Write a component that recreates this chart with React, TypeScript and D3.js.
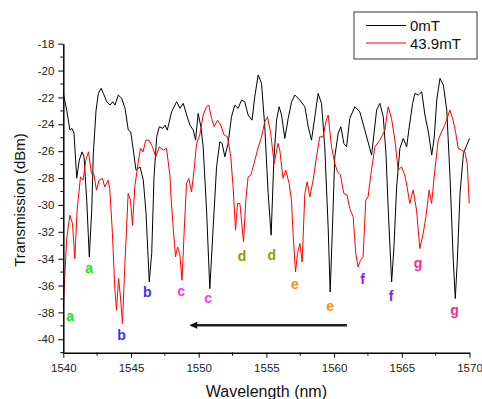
import { useRef, useEffect } from 'react';
import * as d3 from 'd3';

// 0mT trace (black)
const wl0 = [
  1540.0, 1540.25, 1540.49, 1540.64, 1540.79, 1540.99, 1541.18, 1541.38, 1541.53, 1541.73,
  1541.92, 1542.1, 1542.22, 1542.42, 1542.59, 1542.79, 1542.96, 1543.21, 1543.45, 1543.65,
  1543.82, 1544.06, 1544.31, 1544.56, 1544.8, 1544.98, 1545.17, 1545.37, 1545.67, 1545.91,
  1546.11, 1546.35, 1546.53, 1546.7, 1546.9, 1547.09, 1547.34, 1547.51, 1547.68, 1548.0,
  1548.37, 1548.62, 1548.86, 1549.11, 1549.35, 1549.6, 1549.77, 1549.96, 1550.16, 1550.33,
  1550.58, 1550.82, 1551.07, 1551.32, 1551.56, 1551.73, 1551.93, 1552.17, 1552.42, 1552.67,
  1552.91, 1553.16, 1553.4, 1553.65, 1553.94, 1554.14, 1554.39, 1554.64, 1554.88, 1555.13,
  1555.35, 1555.55, 1555.75, 1555.94, 1556.12, 1556.36, 1556.61, 1556.86, 1557.1, 1557.47,
  1557.84, 1558.09, 1558.33, 1558.58, 1558.82, 1559.07, 1559.31, 1559.56, 1559.71, 1559.88,
  1560.05, 1560.3, 1560.5, 1560.72, 1560.92, 1561.16, 1561.53, 1561.9, 1562.27, 1562.77,
  1563.14, 1563.38, 1563.63, 1563.83, 1564.0, 1564.25, 1564.42, 1564.62, 1564.86, 1565.11,
  1565.36, 1565.55, 1565.8, 1565.97, 1566.22, 1566.47, 1566.71, 1566.96, 1567.21, 1567.4,
  1567.58, 1567.82, 1568.07, 1568.32, 1568.56, 1568.8, 1568.95, 1569.1, 1569.3, 1569.55,
  1569.8, 1570.0,
];
const t0 = [
  -21.7, -22.94, -24.43, -24.3, -24.65, -28.01, -26.67, -26.05, -26.42, -29.65,
  -33.87, -30.39, -26.14, -22.94, -21.7, -21.32, -21.7, -22.32, -22.57, -22.32,
  -22.57, -21.82, -22.07, -22.81, -24.43, -24.56, -25.92, -27.41, -27.17, -28.16,
  -30.62, -35.73, -33.6, -27.91, -24.93, -24.18, -24.3, -24.06, -24.43, -23.07,
  -22.32, -22.81, -22.44, -23.31, -24.06, -24.43, -25.18, -23.19, -24.18, -25.68,
  -30.39, -36.23, -31.64, -27.17, -25.3, -25.42, -26.42, -25.42, -23.44, -22.57,
  -22.81, -22.2, -22.32, -23.31, -23.69, -21.95, -20.33, -20.95, -24.18, -29.15,
  -32.25, -26.67, -23.69, -22.69, -23.31, -25.05, -23.56, -22.32, -21.82, -22.2,
  -22.69, -24.18, -25.18, -23.44, -21.7, -22.44, -25.68, -31.64, -36.48, -31.64,
  -26.42, -24.68, -24.18, -25.42, -25.68, -23.56, -22.69, -23.07, -24.43, -26.29,
  -22.94, -22.44, -23.44, -26.17, -30.39, -35.73, -33.13, -28.66, -25.79, -25.05,
  -25.68, -24.18, -22.44, -21.7, -21.82, -21.58, -23.31, -24.56, -26.29, -24.93,
  -22.2, -20.58, -21.08, -22.94, -27.91, -34.12, -36.97, -34.12, -29.15, -26.17,
  -25.55, -25.05,
];

// 43.9mT trace (red)
const wl1 = [
  1540.0, 1540.11, 1540.24, 1540.48, 1540.68, 1540.85, 1541.02, 1541.27, 1541.46, 1541.66,
  1541.86, 1542.08, 1542.25, 1542.45, 1542.64, 1542.89, 1543.06, 1543.31, 1543.43, 1543.63,
  1543.8, 1543.93, 1544.08, 1544.22, 1544.37, 1544.54, 1544.79, 1544.96, 1545.11, 1545.28,
  1545.52, 1545.7, 1545.89, 1546.09, 1546.34, 1546.59, 1546.83, 1547.08, 1547.37, 1547.62,
  1547.87, 1547.94, 1548.11, 1548.29, 1548.44, 1548.6, 1548.77, 1548.92, 1549.1, 1549.27,
  1549.47, 1549.66, 1549.84, 1550.08, 1550.33, 1550.58, 1550.75, 1550.95, 1551.14, 1551.39,
  1551.63, 1551.88, 1552.13, 1552.37, 1552.54, 1552.72, 1552.87, 1553.04, 1553.16, 1553.31,
  1553.48, 1553.65, 1553.85, 1554.09, 1554.34, 1554.64, 1554.88, 1555.08, 1555.32, 1555.57,
  1555.86, 1555.99, 1556.23, 1556.43, 1556.68, 1556.85, 1556.97, 1557.15, 1557.3, 1557.47,
  1557.64, 1557.84, 1558.01, 1558.21, 1558.45, 1558.7, 1558.94, 1559.19, 1559.39, 1559.56,
  1559.81, 1560.05, 1560.25, 1560.47, 1560.72, 1560.96, 1561.16, 1561.41, 1561.6, 1561.77,
  1561.95, 1562.14, 1562.34, 1562.51, 1562.76, 1563.01, 1563.38, 1563.75, 1563.99, 1564.24,
  1564.49, 1564.73, 1564.98, 1565.22, 1565.39, 1565.59, 1565.84, 1566.09, 1566.33, 1566.58,
  1566.78, 1567.02, 1567.2, 1567.44, 1567.69, 1567.93, 1568.18, 1568.55, 1568.79, 1568.99,
  1569.16, 1569.41, 1569.66, 1569.83, 1569.98,
];
const t1 = [
  -37.6, -35.36, -32.63, -30.76, -31.38, -33.99, -30.39, -27.91, -28.16, -26.67,
  -26.05, -27.66, -27.66, -28.9, -28.16, -28.03, -28.66, -28.16, -28.78, -32.13,
  -36.11, -37.84, -35.48, -36.85, -38.83, -34.62, -29.15, -29.65, -31.51, -28.66,
  -26.91, -25.79, -26.05, -25.18, -25.18, -25.68, -26.42, -25.68, -25.92, -25.79,
  -27.78, -29.15, -31.64, -33.87, -33.13, -33.62, -35.61, -32.13, -28.4, -28.03,
  -29.03, -27.41, -25.42, -24.8, -23.31, -22.69, -22.57, -23.56, -24.18, -23.69,
  -24.06, -24.8, -24.93, -26.42, -28.66, -31.88, -29.89, -29.89, -31.14, -32.75,
  -29.65, -27.91, -27.78, -26.91, -25.92, -24.93, -23.81, -23.44, -24.68, -26.91,
  -25.42, -25.92, -28.03, -27.41, -28.4, -29.65, -32.13, -34.99, -33.62, -32.87,
  -34.24, -29.15, -28.28, -29.4, -28.16, -26.42, -24.93, -24.93, -23.81, -23.31,
  -25.68, -26.91, -27.54, -27.78, -29.15, -29.27, -30.27, -30.89, -33.62, -34.62,
  -34.12, -33.87, -29.65, -29.4, -27.41, -25.68, -25.18, -24.43, -22.69, -23.56,
  -25.18, -27.41, -27.17, -27.78, -28.66, -29.89, -28.9, -30.39, -33.25, -32.13,
  -30.89, -28.9, -29.89, -27.41, -25.18, -24.56, -24.06, -22.94, -23.69, -24.68,
  -25.79, -25.92, -26.05, -26.91, -29.89,
];

const seriesNames = ['0mT', '43.9mT'];
const seriesColors = ['#000000', '#ff0000'];

const xTicks = [1540, 1545, 1550, 1555, 1560, 1565, 1570];
const yTicks = [-40, -38, -36, -34, -32, -30, -28, -26, -24, -22, -20, -18];

// dip labels
const dipText = ['a', 'a', 'b', 'b', 'c', 'c', 'd', 'd', 'e', 'e', 'f', 'f', 'g', 'g'];
const dipWl = [1540.5, 1541.9, 1544.3, 1546.2, 1548.7, 1550.7, 1553.2, 1555.4, 1557.1, 1559.7, 1562.1, 1564.2, 1566.2, 1568.9];
const dipDbm = [-38.3, -34.7, -39.7, -36.5, -36.4, -36.9, -33.8, -33.7, -35.9, -37.5, -35.5, -36.8, -34.3, -37.8];
const dipColors: Record<string, string> = {
  a: '#22e022', b: '#3333ff', c: '#ff33ff', d: '#999900', e: '#ff8c1a', f: '#8c1aff', g: '#ff2a8a',
};

// shift arrow (from, to) in nm at dBm level
const arrowWl = [1560.95, 1549.3];
const arrowDbm = -38.95;

export default function App() {
  const svgRef = useRef<SVGSVGElement>(null);

  useEffect(() => {
    if (!svgRef.current) return;
    const svg = d3.select(svgRef.current);
    svg.selectAll('*').remove();

    const font = 'Arial, "Liberation Sans", sans-serif';
    const x = d3.scaleLinear().domain([1540, 1570]).range([63.3, 469.5]);
    const y = d3.scaleLinear().domain([-41, -18]).range([352.7, 43.7]);

    const line = d3.line<[number, number]>()
      .x((d) => x(d[0]))
      .y((d) => y(d[1]));

    // traces
    const traces: [number, number][][] = [
      wl0.map((w, i) => [w, t0[i]]),
      wl1.map((w, i) => [w, t1[i]]),
    ];
    traces.forEach((tr, i) => {
      svg.append('path')
        .datum(tr)
        .attr('fill', 'none')
        .attr('stroke', seriesColors[i])
        .attr('stroke-width', 1)
        .attr('stroke-linejoin', 'round')
        .attr('d', line);
    });

    // axes
    const xAxis = svg.append('g')
      .attr('transform', `translate(0,${y(-41)})`)
      .call(d3.axisBottom(x).tickValues(xTicks).tickSize(5).tickSizeOuter(0).tickPadding(6).tickFormat((d) => String(d)));
    const yAxis = svg.append('g')
      .attr('transform', `translate(${x(1540)},0)`)
      .call(d3.axisLeft(y).tickValues(yTicks).tickSize(5).tickSizeOuter(0).tickPadding(4).tickFormat((d) => String(d)));

    [xAxis, yAxis].forEach((a) => {
      a.select('.domain').attr('stroke', '#000').attr('stroke-width', 1.5);
      a.selectAll('.tick line').attr('stroke', '#000').attr('stroke-width', 1);
      a.selectAll('.tick text').attr('fill', '#222').attr('font-size', 11.5).attr('font-family', font);
    });

    // minor ticks
    const xMinor = d3.range(1542.5, 1570, 5);
    svg.append('g').selectAll('line').data(xMinor).join('line')
      .attr('x1', (d) => x(d)).attr('x2', (d) => x(d))
      .attr('y1', y(-41)).attr('y2', y(-41) + 3)
      .attr('stroke', '#000');
    const yMinor = d3.range(-41, -18, 2);
    svg.append('g').selectAll('line').data(yMinor).join('line')
      .attr('x1', x(1540) - 3).attr('x2', x(1540))
      .attr('y1', (d) => y(d)).attr('y2', (d) => y(d))
      .attr('stroke', '#000');

    // axis titles
    svg.append('text')
      .attr('x', (x(1540) + x(1570)) / 2 + 0)
      .attr('y', 397)
      .attr('text-anchor', 'middle')
      .attr('font-family', font)
      .attr('font-size', 16)
      .attr('fill', '#111')
      .text('Wavelength (nm)');
    svg.append('text')
      .attr('transform', `translate(25,${200}) rotate(-90)`)
      .attr('text-anchor', 'middle')
      .attr('font-family', font)
      .attr('font-size', 15)
      .attr('fill', '#111')
      .text('Transmission (dBm)');

    // dip labels
    svg.append('g').selectAll('text').data(dipText).join('text')
      .attr('x', (_, i) => x(dipWl[i]))
      .attr('y', (_, i) => y(dipDbm[i]))
      .attr('dy', '0.35em')
      .attr('text-anchor', 'middle')
      .attr('font-family', font)
      .attr('font-size', 14)
      .attr('font-weight', 'bold')
      .attr('fill', (d) => dipColors[d])
      .text((d) => d);

    // arrow
    svg.append('line')
      .attr('x1', x(arrowWl[0])).attr('x2', x(arrowWl[1]) + 6)
      .attr('y1', y(arrowDbm)).attr('y2', y(arrowDbm))
      .attr('stroke', '#222').attr('stroke-width', 2.5);
    const ax = x(arrowWl[1]);
    const ay = y(arrowDbm);
    svg.append('path')
      .attr('d', `M${ax},${ay} L${ax + 8},${ay - 3.5} L${ax + 8},${ay + 3.5} Z`)
      .attr('fill', '#111');

    // legend
    const lg = svg.append('g').attr('transform', 'translate(354,12)');
    lg.append('rect')
      .attr('width', 123).attr('height', 47)
      .attr('fill', '#fff').attr('stroke', '#333').attr('stroke-width', 1);
    seriesNames.forEach((name, i) => {
      const ly = 13.5 + i * 17.5;
      lg.append('line')
        .attr('x1', 12).attr('x2', 52).attr('y1', ly).attr('y2', ly)
        .attr('stroke', seriesColors[i]).attr('stroke-width', 1);
      lg.append('text')
        .attr('x', 56).attr('y', ly + 5.5)
        .attr('font-family', font).attr('font-size', 15).attr('fill', '#111')
        .text(name);
    });
  }, []);

  return (
    <svg
      ref={svgRef}
      width={482}
      height={399}
      style={{ position: 'absolute', left: 0, top: 0, background: '#fff' }}
    />
  );
}
